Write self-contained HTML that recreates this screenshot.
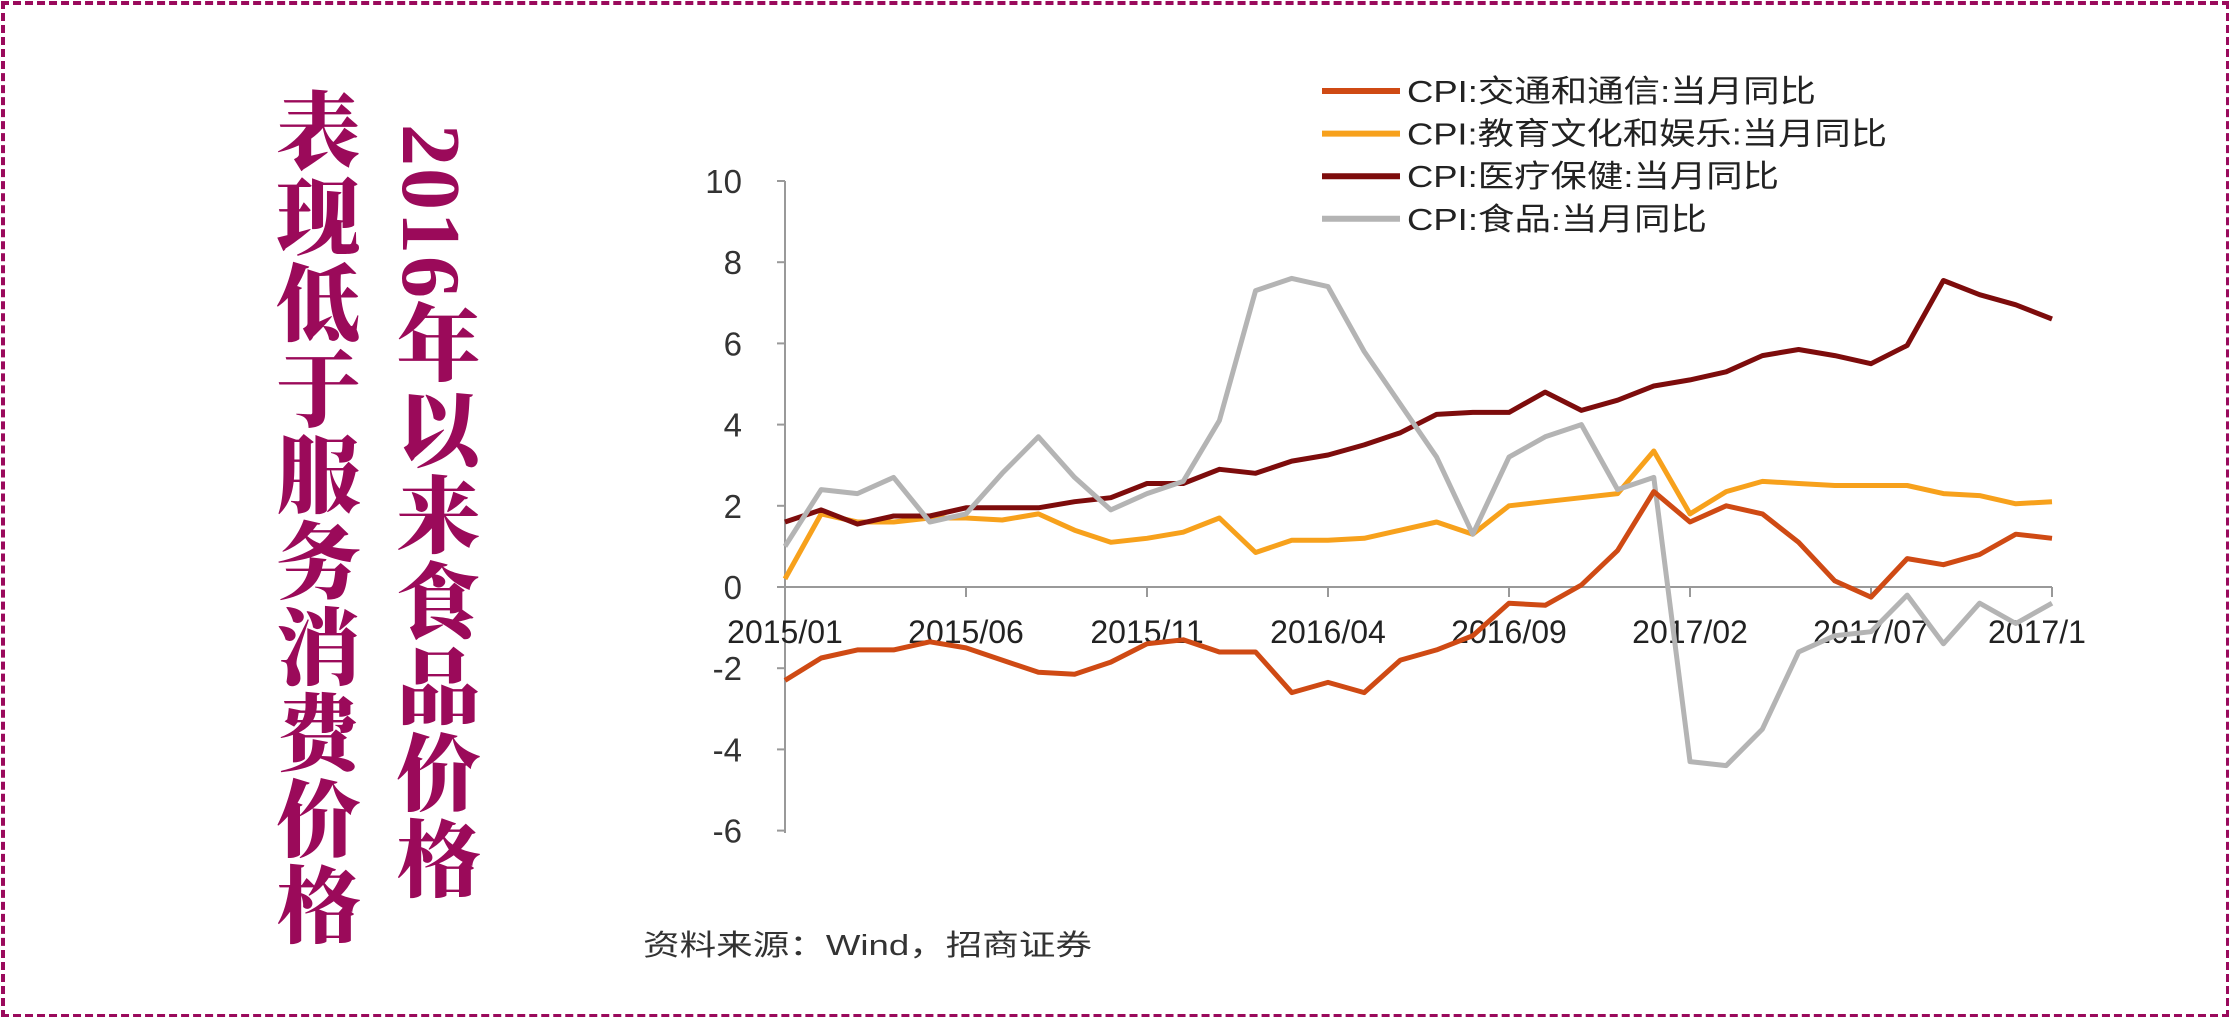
<!DOCTYPE html>
<html><head><meta charset="utf-8"><style>
html,body{margin:0;padding:0;background:#fff}
#w{position:relative;width:2229px;height:1017px;overflow:hidden;background:#fff}
#bd{position:absolute;left:1px;top:1px;width:2221px;height:1009px;border:4px dashed #9a0a5c}
.vt{position:absolute;writing-mode:vertical-rl;font-family:"Liberation Serif","Noto Serif CJK SC",serif;font-weight:900;color:#9b0a5a;font-size:84px;line-height:1;letter-spacing:2px}
</style></head><body><div id="w"><div id="bd"></div>
<div class="vt" style="left:388px;top:124px;">2016年以来食品价格</div>
<div class="vt" style="left:268px;top:88px;">表现低于服务消费价格</div>
<svg id="s" width="2229" height="1017" style="position:absolute;left:0;top:0" font-family="Liberation Sans, Noto Sans CJK SC, sans-serif"></svg>
</div>
<script>
var s=document.getElementById('s'),h='';
var X0=785,DX=36.2,Y0=587,K=40.6;
function X(i){return X0+i*DX}function Y(v){return Y0-v*K}
h+='<line x1="785" y1="181" x2="785" y2="833" stroke="#999" stroke-width="2"/>';
for(var v=-6;v<=10;v+=2){h+='<line x1="777" y1="'+Y(v)+'" x2="785" y2="'+Y(v)+'" stroke="#999" stroke-width="2"/>';
h+='<text x="742" y="'+(Y(v)+12)+'" text-anchor="end" font-size="33" fill="#333">'+v+'</text>';}
h+='<line x1="785" y1="587" x2="2052" y2="587" stroke="#999" stroke-width="2"/>';
var lb=['2015/01','2015/06','2015/11','2016/04','2016/09','2017/02','2017/07','2017/1'];
for(var k=0;k<8;k++){var x=X(k*5);h+='<line x1="'+x+'" y1="587" x2="'+x+'" y2="597" stroke="#999" stroke-width="2"/>';
if(k<7)h+='<text x="'+x+'" y="643" text-anchor="middle" font-size="32" fill="#222">'+lb[k]+'</text>';
else h+='<text x="'+(x-64)+'" y="643" font-size="32" fill="#222">'+lb[k]+'</text>';}
var edu=[0.2,1.8,1.6,1.6,1.7,1.7,1.65,1.8,1.4,1.1,1.2,1.35,1.7,0.85,1.15,1.15,1.2,1.4,1.6,1.3,2.0,2.1,2.2,2.3,3.35,1.8,2.35,2.6,2.55,2.5,2.5,2.5,2.3,2.25,2.05,2.1];
var hea=[1.6,1.9,1.55,1.75,1.75,1.95,1.95,1.95,2.1,2.2,2.55,2.55,2.9,2.8,3.1,3.25,3.5,3.8,4.25,4.3,4.3,4.8,4.35,4.6,4.95,5.1,5.3,5.7,5.85,5.7,5.5,5.95,7.55,7.2,6.95,6.6];
var tra=[-2.3,-1.75,-1.55,-1.55,-1.35,-1.5,-1.8,-2.1,-2.15,-1.85,-1.4,-1.3,-1.6,-1.6,-2.6,-2.35,-2.6,-1.8,-1.55,-1.2,-0.4,-0.45,0.05,0.9,2.35,1.6,2.0,1.8,1.1,0.15,-0.25,0.7,0.55,0.8,1.3,1.2];
var foo=[1.0,2.4,2.3,2.7,1.6,1.8,2.8,3.7,2.7,1.9,2.3,2.6,4.1,7.3,7.6,7.4,5.8,4.5,3.2,1.3,3.2,3.7,4.0,2.4,2.7,-4.3,-4.4,-3.5,-1.6,-1.2,-1.1,-0.2,-1.4,-0.4,-0.9,-0.4];
function pl(d,c){var p=d.map(function(v,i){return X(i).toFixed(1)+','+Y(v).toFixed(1)}).join(' ');
h+='<polyline points="'+p+'" fill="none" stroke="'+c+'" stroke-width="5" stroke-linejoin="round"/>';}
pl(edu,'#f7a11c');pl(hea,'#7d0c0c');pl(foo,'#b4b4b4');pl(tra,'#cf4a14');
var lg=[['#cf4a14','CPI:交通和通信:当月同比',409],['#f7a11c','CPI:教育文化和娱乐:当月同比',480],['#7d0c0c','CPI:医疗保健:当月同比',372],['#b4b4b4','CPI:食品:当月同比',300]];
for(var j=0;j<4;j++){var y=91+j*42.6;h+='<line x1="1322" y1="'+y+'" x2="1400" y2="'+y+'" stroke="'+lg[j][0]+'" stroke-width="6"/>';
h+='<text x="1407" y="'+(y+11)+'" font-size="31" fill="#222" textLength="'+lg[j][2]+'" lengthAdjust="spacingAndGlyphs">'+lg[j][1]+'</text>';}
h+='<text x="643" y="955" font-size="29" fill="#333" textLength="449" lengthAdjust="spacingAndGlyphs">资料来源：Wind，招商证券</text>';
s.innerHTML=h;
</script></body></html>
